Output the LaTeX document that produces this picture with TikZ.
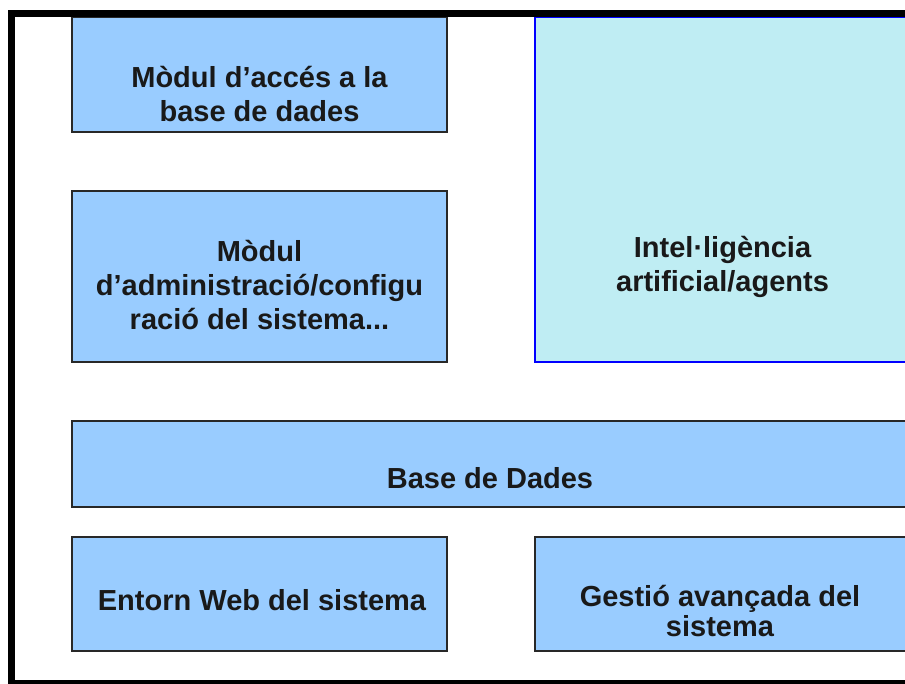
\documentclass[tikz,border=0pt]{standalone}
\usepackage{fontspec}
\setmainfont{Liberation Sans}
\usepackage{xcolor}
\usetikzlibrary{positioning}

\definecolor{boxblue}{RGB}{153,204,255}
\definecolor{aicyan}{RGB}{191,237,243}
\definecolor{edgegray}{RGB}{40,40,40}

\begin{document}
\begin{tikzpicture}[x=1pt, y=-1pt,
    block/.style={draw=edgegray, fill=boxblue, line width=1.5pt},
    aiblock/.style={draw=blue, fill=aicyan, line width=1.5pt},
    lbl/.style={anchor=base, align=center, inner sep=0pt, text=black!90,
        font=\bfseries\fontsize{29}{34}\selectfont},
    frame/.style={draw=black, line width=7pt}]

    \useasboundingbox (0,0) rectangle (905,684);
    \clip (0,0) rectangle (905,684);

    % boxes
    \path[block] (72,17) rectangle (447,132);
    \path[block] (72,191) rectangle (447,362);
    \path[aiblock] (535,17) rectangle (909,362);
    \path[block] (72,421) rectangle (909,507);
    \path[block] (72,537) rectangle (447,651);
    \path[block] (535,537) rectangle (909,651);

    % labels (base = last line)
    \node[lbl] (access) at (259.5,122) {Mòdul d’accés a la\\base de dades};
    \node[lbl] (admin) at (259.5,330) {Mòdul\\d’administració/configu\\ració del sistema...};
    \node[lbl] (ai) at (722.5,292) {Intel·ligència\\artificial/agents};
    \node[lbl] (db) at (490,488) {Base de Dades};
    \node[lbl] (web) at (262,610) {Entorn Web del sistema};
    \node[lbl] (gestio) at (720,636) {Gestió avançada del\\[-4pt]sistema};

    % outer frame
    \path[frame] (11.5,13.5) rectangle (930,683.5);
\end{tikzpicture}
\end{document}
